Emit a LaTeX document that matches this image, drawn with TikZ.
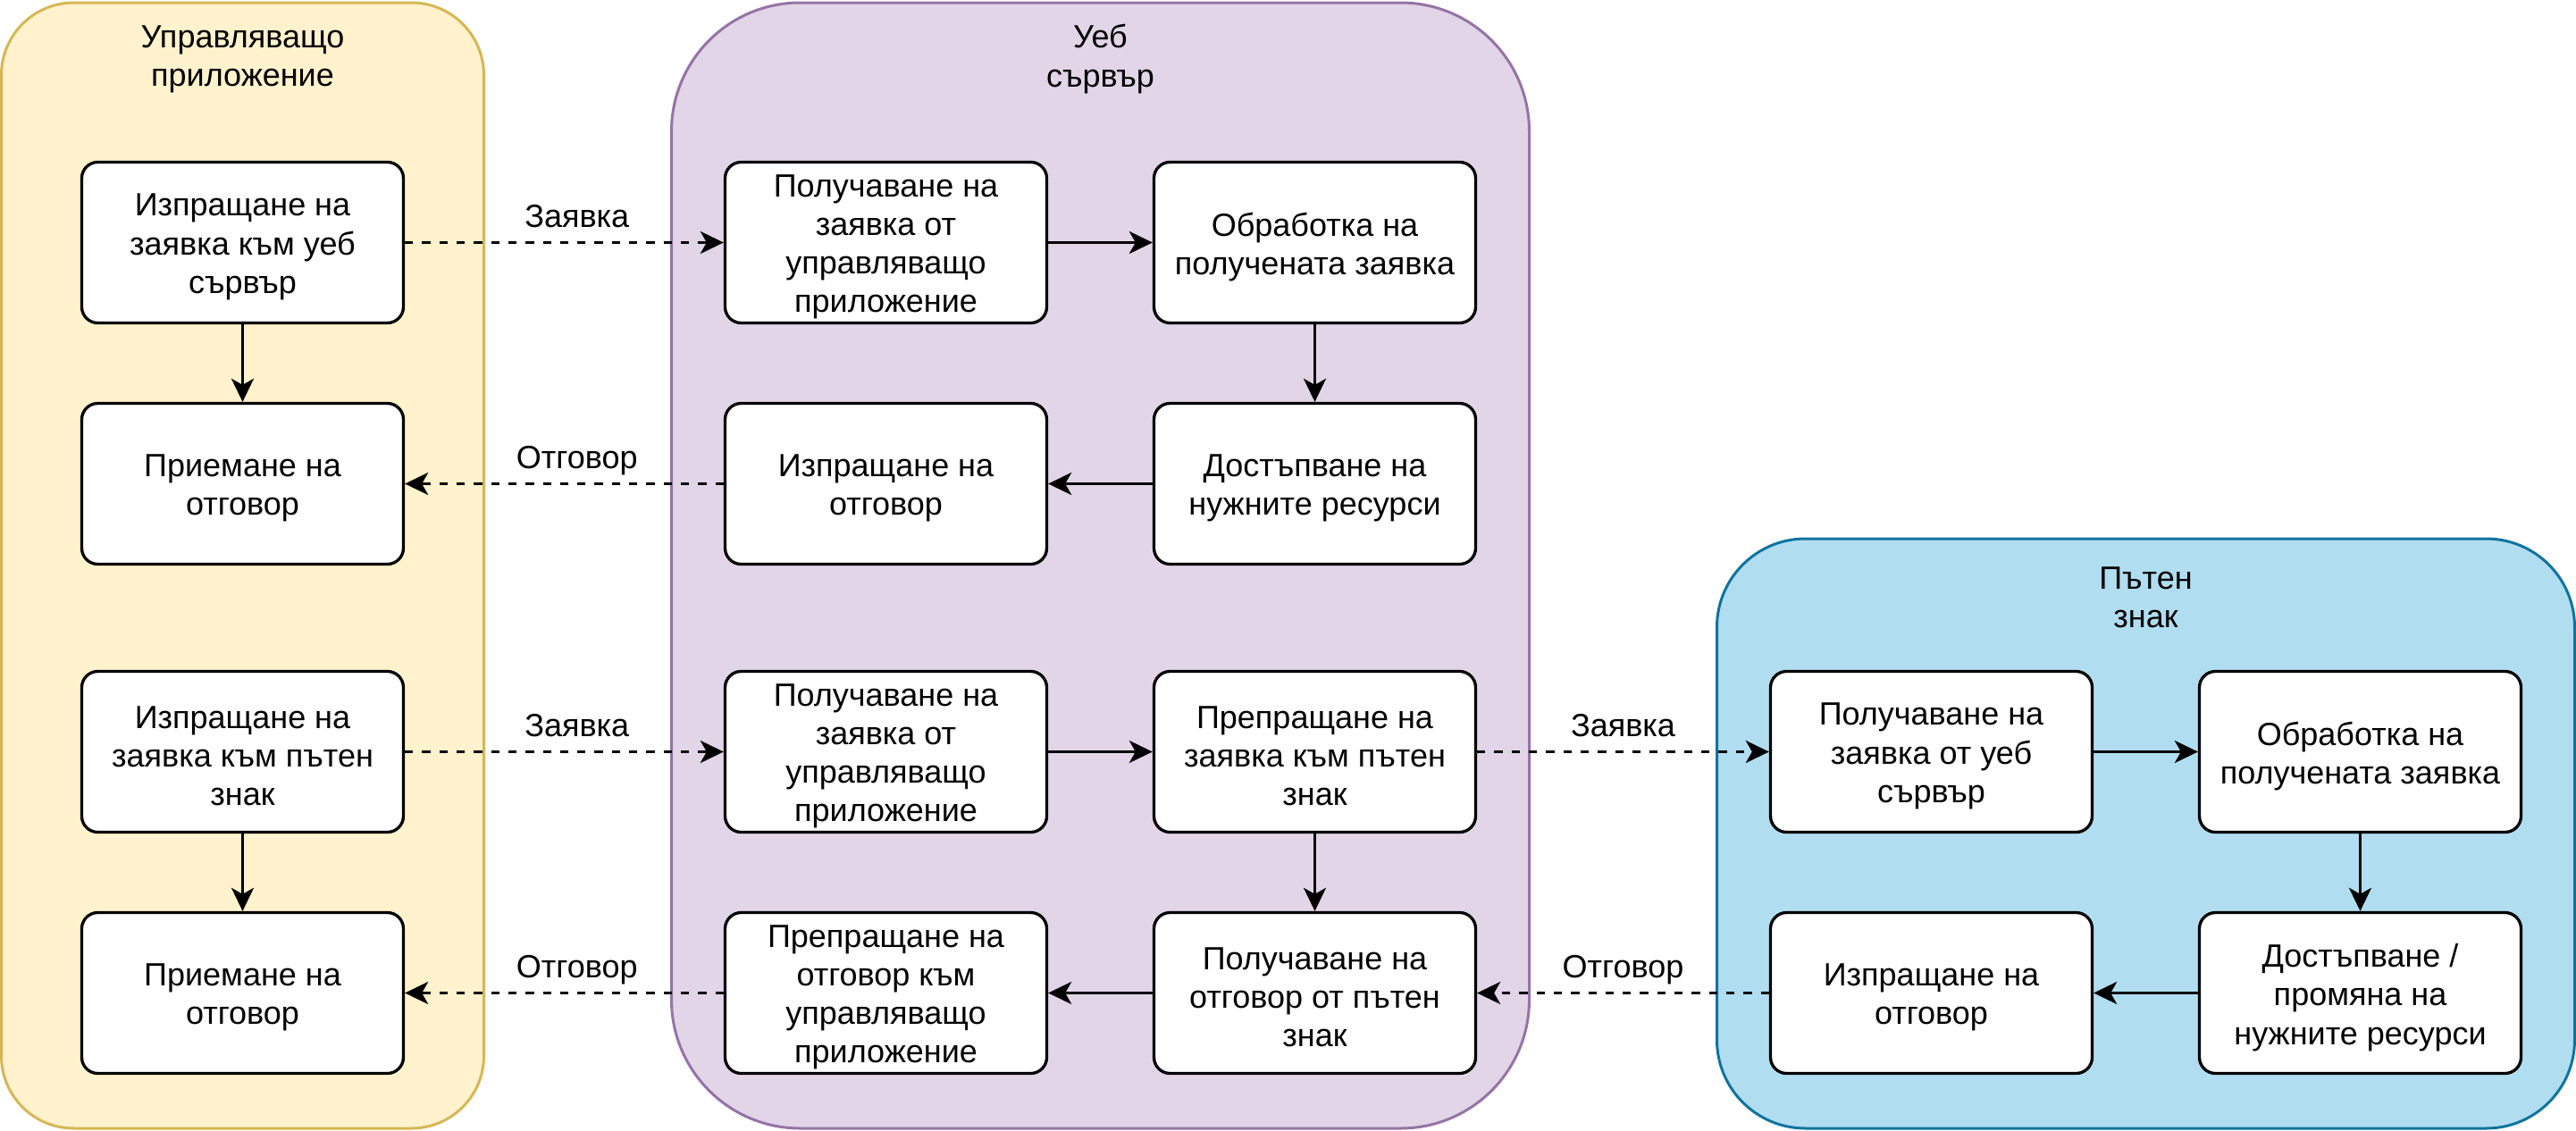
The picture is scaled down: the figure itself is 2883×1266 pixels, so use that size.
\documentclass[tikz,border=0pt]{standalone}
\usepackage{fontspec}
\setmainfont{Liberation Sans}
\usetikzlibrary{arrows.meta}

\definecolor{ylwfill}{HTML}{FFF2CC}
\definecolor{ylwline}{HTML}{D6B656}
\definecolor{prpfill}{HTML}{E1D5E7}
\definecolor{prpline}{HTML}{9673A6}
\definecolor{blufill}{HTML}{B1DDF0}
\definecolor{bluline}{HTML}{10739E}

\tikzset{
  txt/.style={font=\fontsize{36}{43.2}\selectfont, align=center, text=black},
  stepbox/.style={draw=black, fill=white, line width=3.3pt,
    rounded corners=18pt, minimum width=360pt, minimum height=180pt,
    inner sep=0pt},
  steptext/.style={txt, inner sep=0pt, yshift=-5pt},
  title/.style={txt, inner sep=0pt},
  flow/.style={line width=3.3pt, -{Stealth[length=26pt, width=25pt, inset=7pt]}},
  msg/.style={flow, dash pattern=on 9.3pt off 10pt},
  lbl/.style={txt, anchor=base, yshift=17pt, inner sep=0pt},
  lane/.style={line width=3pt},
}

% a process step: rounded white box #1 at #2 with its caption #3
\newcommand\procstep[3]{%
  \node[stepbox] (#1) at (#2) {};
  \node[steptext] (#1-text) at (#2) {#3};}

\begin{document}
\begin{tikzpicture}[x=1pt, y=-1pt]
  \useasboundingbox (0,0) rectangle (2883,1266);

  % swimlane containers
  \draw[lane, fill=ylwfill, draw=ylwline, rounded corners=81pt]
    (1.5,3) rectangle (541.5,1263);
  \draw[lane, fill=prpfill, draw=prpline, rounded corners=144pt]
    (751.5,3) rectangle (1711.5,1263);
  \draw[lane, fill=blufill, draw=bluline, rounded corners=99pt]
    (1921.5,603) rectangle (2881.5,1263);

  \node[title] (tapp) at (271.5,66) {Управляващо\\приложение};
  \node[title] (tsrv) at (1231.5,66) {Уеб\\сървър};
  \node[title] (tsgn) at (2401.5,669) {Пътен\\знак};

  % controlling application
  \procstep{y1}{271.5,271.5}{Изпращане на\\заявка към уеб\\сървър}
  \procstep{y2}{271.5,541.5}{Приемане на\\отговор}
  \procstep{y3}{271.5,841.5}{Изпращане на\\заявка към пътен\\знак}
  \procstep{y4}{271.5,1111.5}{Приемане на\\отговор}

  % web server
  \procstep{p11}{991.5,271.5}{Получаване на\\заявка от\\управляващо\\приложение}
  \procstep{p12}{1471.5,271.5}{Обработка на\\получената заявка}
  \procstep{p21}{991.5,541.5}{Изпращане на\\отговор}
  \procstep{p22}{1471.5,541.5}{Достъпване на\\нужните ресурси}
  \procstep{p31}{991.5,841.5}{Получаване на\\заявка от\\управляващо\\приложение}
  \procstep{p32}{1471.5,841.5}{Препращане на\\заявка към пътен\\знак}
  \procstep{p41}{991.5,1111.5}{Препращане на\\отговор към\\управляващо\\приложение}
  \procstep{p42}{1471.5,1111.5}{Получаване на\\отговор от пътен\\знак}

  % road sign
  \procstep{b1}{2161.5,841.5}{Получаване на\\заявка от уеб\\сървър}
  \procstep{b2}{2641.5,841.5}{Обработка на\\получената заявка}
  \procstep{b3}{2161.5,1111.5}{Изпращане на\\отговор}
  \procstep{b4}{2641.5,1111.5}{Достъпване /\\промяна на\\нужните ресурси}

  % first exchange
  \draw[msg] (y1) -- node[lbl, pos=.54] {Заявка} (p11);
  \draw[flow] (y1) -- (y2);
  \draw[flow] (p11) -- (p12);
  \draw[flow] (p12) -- (p22);
  \draw[flow] (p22) -- (p21);
  \draw[msg] (p21) -- node[lbl, pos=.46] {Отговор} (y2);

  % second exchange
  \draw[msg] (y3) -- node[lbl, pos=.54] {Заявка} (p31);
  \draw[flow] (y3) -- (y4);
  \draw[flow] (p31) -- (p32);
  \draw[msg] (p32) -- node[lbl, pos=.5] {Заявка} (b1);
  \draw[flow] (p32) -- (p42);
  \draw[flow] (b1) -- (b2);
  \draw[flow] (b2) -- (b4);
  \draw[flow] (b4) -- (b3);
  \draw[msg] (b3) -- node[lbl, pos=.5] {Отговор} (p42);
  \draw[flow] (p42) -- (p41);
  \draw[msg] (p41) -- node[lbl, pos=.46] {Отговор} (y4);
\end{tikzpicture}
\end{document}
